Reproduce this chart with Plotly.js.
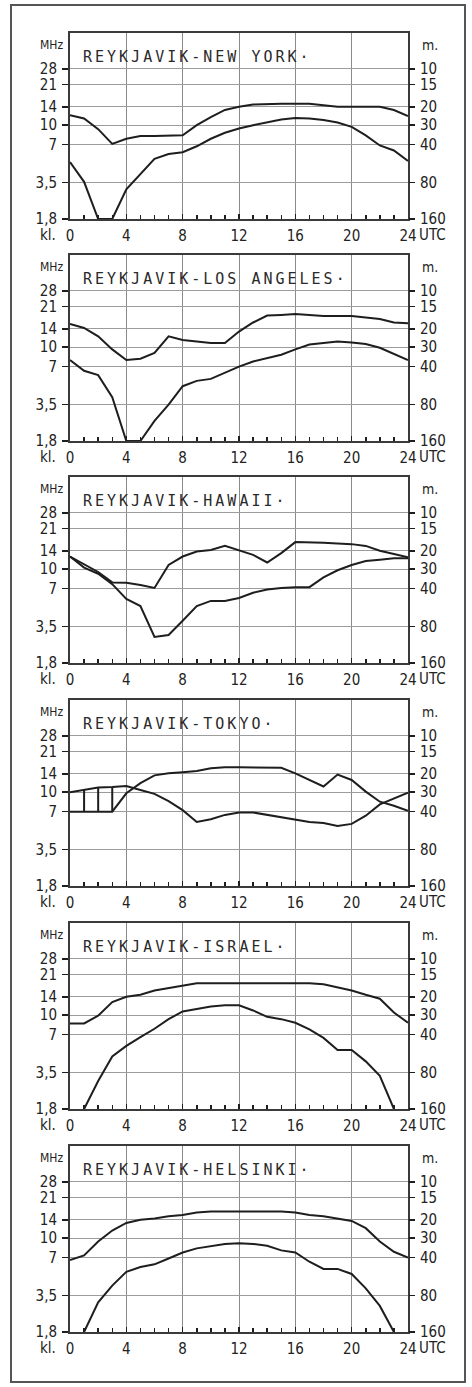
<!DOCTYPE html>
<html><head><meta charset="utf-8">
<script src="https://cdn.plot.ly/plotly-3.0.1.min.js"></script>
<style>html,body{margin:0;padding:0;background:#fff}#chart{width:472px;height:1387px}</style>
</head><body><div id="chart"></div>
<script>
// ---------- data ----------
const hours = [0,1,2,3,4,5,6,7,8,9,10,11,12,13,14,15,16,17,18,19,20,21,22,23,24];
const panelTitles = ["REYKJAVIK-NEW YORK·","REYKJAVIK-LOS ANGELES·","REYKJAVIK-HAWAII·","REYKJAVIK-TOKYO·","REYKJAVIK-ISRAEL·","REYKJAVIK-HELSINKI·"];
const freqTicks = [28,21,14,10,7,3.5,1.8];
const freqTickText = ["28","21","14","10","7","3,5","1,8"];
const meterTickText = ["10","15","20","30","40","80","160"];
const hourTicks = [0,4,8,12,16,20,24];
const hourTickText = ["0","4","8","12","16","20","24"];

const newYorkUpper = [12.0,11.3,9.3,7.1,7.8,8.2,8.2,8.2,8.3,10.0,11.6,13.2,14.0,14.6,14.8,14.8,14.8,14.8,14.4,14.0,14.0,14.0,14.0,13.2,11.8];
const newYorkLower = [5.1,3.55,1.8,1.8,3.1,4.1,5.4,5.9,6.1,6.8,7.8,8.7,9.4,10.0,10.6,11.1,11.4,11.3,11.0,10.5,9.7,8.3,6.9,6.3,5.2];
const losAngelesUpper = [15.3,14.2,12.2,9.6,7.9,8.1,9.0,12.2,11.4,11.1,10.8,10.8,13.3,15.7,17.8,18.0,18.3,18.0,17.7,17.7,17.7,17.2,16.7,15.7,15.5];
const losAngelesLower = [7.9,6.5,6.0,4.0,1.8,1.8,2.6,3.5,4.9,5.4,5.6,6.3,7.0,7.7,8.2,8.7,9.6,10.5,10.8,11.1,10.9,10.6,9.9,8.9,7.9];
const hawaiiUpper = [12.6,11.0,9.5,7.85,7.8,7.5,7.1,10.8,12.6,13.8,14.2,15.3,14.2,13.0,11.3,13.4,16.4,16.4,16.2,16.0,15.8,15.3,14.0,13.2,12.4];
const hawaiiLower = [12.6,10.3,9.2,7.6,5.8,5.1,2.9,3.0,3.9,5.1,5.6,5.6,5.9,6.5,6.9,7.1,7.2,7.2,8.6,9.8,10.8,11.6,11.9,12.2,12.2];
const tokyoUpper = [10.0,10.5,10.9,11.0,11.2,10.4,9.7,8.5,7.2,5.8,6.1,6.6,6.9,6.9,6.6,6.3,6.0,5.8,5.7,5.4,5.6,6.5,8.0,8.9,9.9];
const tokyoLower = [7.0,7.0,7.0,7.0,9.8,11.8,13.6,14.1,14.4,14.7,15.5,15.8,15.8,15.8,15.8,15.6,14.1,12.6,11.1,13.8,12.5,10.1,8.4,7.8,7.1];
const tokyoHatchHours = [1,2,3];
const israelUpper = [8.6,8.6,9.9,12.7,14.0,14.5,15.7,16.4,17.3,17.9,17.9,17.9,17.9,17.9,17.9,17.9,17.9,17.9,17.6,16.6,15.7,14.5,13.5,10.5,8.7];
const israelLower = [null,1.8,3.0,4.7,5.7,6.7,7.8,9.3,10.7,11.2,11.7,12.0,12.0,10.9,9.7,9.3,8.7,7.7,6.6,5.3,5.3,4.3,3.3,1.8,null];
const helsinkiUpper = [6.7,7.3,9.4,11.5,13.2,14.0,14.3,14.9,15.3,16.0,16.3,16.3,16.3,16.3,16.3,16.3,16.0,15.3,14.9,14.3,13.7,12.0,9.4,7.8,7.0];
const helsinkiLower = [null,1.8,3.1,4.2,5.4,5.9,6.2,6.9,7.7,8.3,8.6,9.0,9.1,9.0,8.7,8.0,7.7,6.5,5.7,5.7,5.2,4.0,2.9,1.8,null];

const upperSeries = [newYorkUpper,losAngelesUpper,hawaiiUpper,tokyoUpper,israelUpper,helsinkiUpper];
const lowerSeries = [newYorkLower,losAngelesLower,hawaiiLower,tokyoLower,israelLower,helsinkiLower];

// ---------- layout geometry ----------
const W = 472, H = 1387;
const plotL = 70, plotR = 408;
const panelTop = [33,255,477,700,923,1146];
const panelH = 186;
const pxPerDec = 126;
const yLo = Math.log10(1.8);
const yHi = yLo + panelH / pxPerDec;

const ink = '#1e1e1e';
const frame = '#3a3a3a';
const tickFont = {family:'Liberation Sans Narrow, DejaVu Sans Condensed, Liberation Sans, sans-serif', size:15, color:'#222'};

const traces = [];
const layout = {
  width: W, height: H,
  margin: {l:0, r:0, t:0, b:0},
  paper_bgcolor: '#fff', plot_bgcolor: '#fff',
  showlegend: false,
  annotations: [],
  shapes: [{type:'rect', xref:'paper', yref:'paper', x0:11/W, x1:465/W, y0:1-1382/H, y1:1-5/H,
            line:{color:'#555', width:2}, fillcolor:'rgba(0,0,0,0)', layer:'below'}]
};

for (let i = 0; i < 6; i++) {
  const n = i + 1;
  const xa = n === 1 ? 'x' : 'x' + n;
  const yaL = 'y' + (2*i + 1);
  const yaR = 'y' + (2*i + 2);
  const xKey = n === 1 ? 'xaxis' : 'xaxis' + n;
  const yKeyL = (2*i+1) === 1 ? 'yaxis' : 'yaxis' + (2*i+1);
  const yKeyR = 'yaxis' + (2*i+2);
  const top = panelTop[i];
  const dom = [1 - (top + panelH) / H, 1 - top / H];

  layout[xKey] = {
    domain: [plotL / W, plotR / W], anchor: yaL, range: [0, 24], type: 'linear',
    tickmode: 'array', tickvals: hourTicks, ticktext: hourTickText,
    ticks: 'inside', ticklen: 5, tickcolor: ink, tickwidth: 1.5,
    minor: {ticks: 'inside', dtick: 1, tick0: 0, ticklen: 4, tickcolor: ink, tickwidth: 1.5, showgrid: false},
    showgrid: true, gridcolor: '#8a8a8a', gridwidth: 1,
    showline: true, linecolor: frame, linewidth: 2, mirror: true,
    zeroline: false, tickfont: tickFont, ticklabelstandoff: 2, fixedrange: true
  };
  layout[yKeyL] = {
    domain: dom, anchor: xa, type: 'log', range: [yLo, yHi],
    tickmode: 'array', tickvals: freqTicks, ticktext: freqTickText,
    ticks: 'outside', ticklen: 6, tickcolor: ink, tickwidth: 1.5,
    showgrid: true, gridcolor: '#9c9c9c', gridwidth: 1.2,
    showline: true, linecolor: frame, linewidth: 2, mirror: true,
    zeroline: false, tickfont: tickFont, ticklabelstandoff: 2, fixedrange: true
  };
  layout[yKeyR] = {
    overlaying: yaL, side: 'right', anchor: xa, type: 'log', range: [yLo, yHi],
    tickmode: 'array', tickvals: freqTicks, ticktext: meterTickText,
    ticks: 'outside', ticklen: 6, tickcolor: ink, tickwidth: 1.5,
    showgrid: false, showline: false, zeroline: false,
    tickfont: tickFont, ticklabelstandoff: 2, fixedrange: true
  };

  traces.push({x: hours, y: upperSeries[i], xaxis: xa, yaxis: yaL, mode: 'lines',
               line: {color: ink, width: 2}, connectgaps: false, hoverinfo: 'skip'});
  traces.push({x: hours, y: lowerSeries[i], xaxis: xa, yaxis: yaL, mode: 'lines',
               line: {color: ink, width: 2}, connectgaps: false, hoverinfo: 'skip'});
  // keeps the right-hand wavelength axis bound to the subplot
  traces.push({x: hours, y: upperSeries[i], xaxis: xa, yaxis: yaR, mode: 'lines',
               line: {color: 'rgba(0,0,0,0)', width: 0}, hoverinfo: 'skip'});

  const titleY = 1 - (top + 24) / H;
  const unitY = 1 - (top + 12) / H;
  const xlabY = 1 - (top + panelH + 16) / H;
  layout.annotations.push(
    {text: panelTitles[i], xref: 'paper', yref: 'paper', x: 81/W, y: titleY, xanchor: 'left', yanchor: 'middle',
     showarrow: false, font: {family: 'DejaVu Sans Mono, Liberation Mono, monospace', size: 15, color: '#2a2a2a'}},
    {text: 'MHz', xref: 'paper', yref: 'paper', x: 51/W, y: unitY, xanchor: 'center', yanchor: 'middle',
     showarrow: false, font: {family: tickFont.family, size: 12, color: '#222'}},
    {text: 'm.', xref: 'paper', yref: 'paper', x: 420/W, y: unitY, xanchor: 'left', yanchor: 'middle',
     showarrow: false, font: {family: tickFont.family, size: 14, color: '#222'}},
    {text: 'kl.', xref: 'paper', yref: 'paper', x: 58/W, y: xlabY, xanchor: 'right', yanchor: 'middle',
     showarrow: false, font: tickFont},
    {text: 'UTC', xref: 'paper', yref: 'paper', x: 417/W, y: xlabY, xanchor: 'left', yanchor: 'middle',
     showarrow: false, font: tickFont}
  );
}

// hatching of the open window on the Tokyo path
const tIdx = 3;
const hatchX = [], hatchY = [];
tokyoHatchHours.forEach(h => {
  const k = hours.indexOf(h);
  hatchX.push(h, h, null);
  hatchY.push(lowerSeries[tIdx][k], upperSeries[tIdx][k], null);
});
traces.push({x: hatchX, y: hatchY, xaxis: 'x4', yaxis: 'y7', mode: 'lines',
             line: {color: ink, width: 2}, hoverinfo: 'skip'});

Plotly.newPlot('chart', traces, layout, {staticPlot: true, displayModeBar: false}).then(() => {
  document.querySelectorAll('.annotation-text').forEach(t => {
    if (t.textContent.indexOf('REYKJAVIK') === 0) {
      const before = t.getBBox().x;
      t.style.letterSpacing = '3px';
      const after = t.getBBox().x;
      t.setAttribute('transform', 'translate(' + (before - after) + ',0)');
    }
  });
});
</script>
</body></html>
